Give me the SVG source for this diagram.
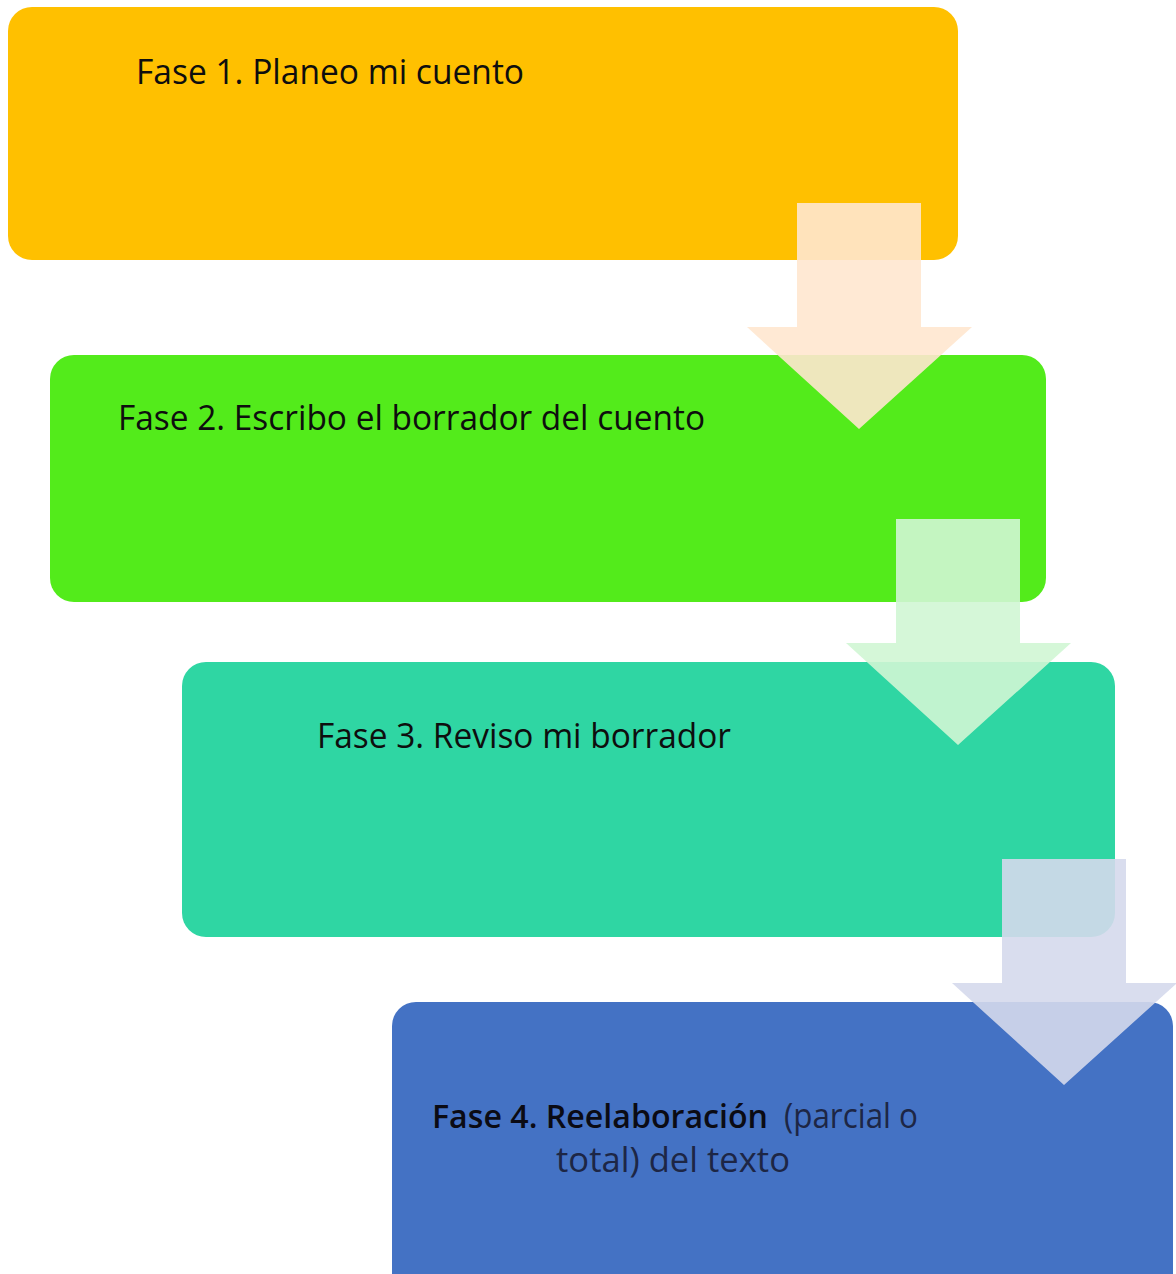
<svg xmlns="http://www.w3.org/2000/svg" width="1176" height="1274" viewBox="0 0 1176 1274">
  <style>
    .lbl { font-family: "Open Sans", "Liberation Sans", sans-serif; font-size: 35px; font-weight: 500; fill: #0e0e0e; }
    .soft { fill: #1d2645; font-weight: 400; }
    .strong { font-weight: 600; fill: #0b0b14; font-size: 33px; }
  </style>
  <defs>
    <!-- down arrow shape, origin at top-left of the shaft -->
    <path id="downArrow" d="M0 0 H124 V124 H175 L62 226 L-50 124 H0 Z"/>
  </defs>
  <rect width="1176" height="1274" fill="#ffffff"/>

  <g id="fase1">
    <rect x="8" y="7" width="950" height="253" rx="24" fill="#FFC000"/>
    <text class="lbl" x="136" y="84" textLength="388" lengthAdjust="spacingAndGlyphs">Fase 1. Planeo mi cuento</text>
  </g>

  <g id="fase2">
    <rect x="50" y="355" width="996" height="247" rx="24" fill="#53EB1B"/>
    <text class="lbl" x="118" y="430" textLength="587" lengthAdjust="spacingAndGlyphs">Fase 2. Escribo el borrador del cuento</text>
  </g>

  <g id="fase3">
    <rect x="182" y="662" width="933" height="275" rx="24" fill="#2FD6A3"/>
    <text class="lbl" x="317" y="748" textLength="414" lengthAdjust="spacingAndGlyphs">Fase 3. Reviso mi borrador</text>
  </g>

  <g id="fase4">
    <rect x="392" y="1002" width="781" height="300" rx="24" fill="#4472C4"/>
    <text class="lbl strong" x="432" y="1128" textLength="336" lengthAdjust="spacingAndGlyphs">Fase 4. Reelaboración</text>
    <text class="lbl soft" x="784" y="1128" textLength="134" lengthAdjust="spacingAndGlyphs">(parcial o</text>
    <text class="lbl soft" x="556" y="1172" textLength="234" lengthAdjust="spacingAndGlyphs">total) del texto</text>
  </g>

  <g id="connectors">
    <use href="#downArrow" x="797" y="203" fill="#FFE7CF" fill-opacity="0.9"/>
    <use href="#downArrow" x="896" y="519" fill="#D0F6D4" fill-opacity="0.9"/>
    <use href="#downArrow" x="1002" y="859" fill="#D5D9EC" fill-opacity="0.9"/>
  </g>
</svg>
